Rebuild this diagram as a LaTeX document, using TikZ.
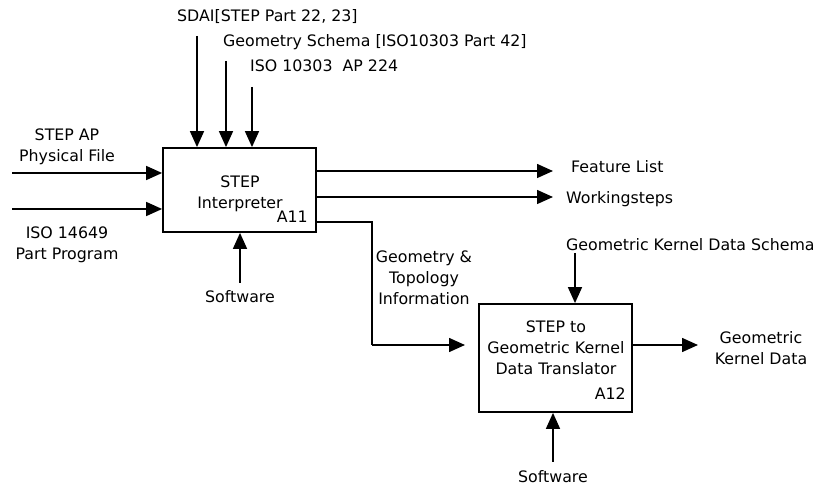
\documentclass[tikz,border=0pt]{standalone}
\usepackage{fontspec}
\setmainfont{DejaVu Sans}
\usetikzlibrary{arrows.meta}
\begin{document}
\begin{tikzpicture}[x=1pt,y=-1pt,
  lbl/.style={inner sep=0pt, font=\fontsize{15.8}{21}\selectfont, align=center},
  proc/.style={draw, line width=1.8pt, minimum width=153pt, minimum height=#1, inner sep=0pt},
  flow/.style={line width=1.5pt, -{Triangle[length=16pt,width=14pt]}},
  wire/.style={line width=1.5pt}]
\useasboundingbox (0,0) rectangle (815,486);

% activity boxes
\node[proc=84pt]  (a11) at (239.5,190) {};
\node[proc=108pt] (a12) at (555.5,358) {};

% box texts (multi-line nodes are placed by their last baseline)
\node[lbl, anchor=base] (a11txt) at (240,208.5) {STEP\\Interpreter};
\node[lbl, anchor=base east] (a11id) at (308,223) {A11};
\node[lbl, anchor=base] (a12txt) at (556,375) {STEP to\\Geometric Kernel\\Data Translator};
\node[lbl, anchor=base east] (a12id) at (626,400) {A12};

% controls of A11
\coordinate (c1) at (197,36);
\coordinate (c2) at (226,61);
\coordinate (c3) at (252,87);
\draw[flow] (c1) -- (c1 |- a11.north);
\draw[flow] (c2) -- (c2 |- a11.north);
\draw[flow] (c3) -- (c3 |- a11.north);
\node[lbl, anchor=base west] (sdai) at (177,21.5) {SDAI[STEP Part 22, 23]};
\node[lbl, anchor=base west] (geo) at (223,46.5) {Geometry Schema [ISO10303 Part 42]};
\node[lbl, anchor=base west] (ap) at (250,72) {ISO 10303\ \ AP 224};

% inputs of A11
\coordinate (i1) at (12,173);
\coordinate (i2) at (12,209);
\draw[flow] (i1) -- (i1 -| a11.west);
\draw[flow] (i2) -- (i2 -| a11.west);
\node[lbl, anchor=base] (phys) at (67,162) {STEP AP\\Physical File};
\node[lbl, anchor=base] (prog) at (67,260) {ISO 14649\\Part Program};

% mechanism of A11
\coordinate (m1) at (240,283);
\draw[flow] (m1) -- (m1 |- a11.south);
\node[lbl, anchor=base] (sw1) at (240,302.5) {Software};

% outputs of A11
\coordinate (o1) at (553,171);
\coordinate (o2) at (553,197);
\draw[flow] (o1 -| a11.east) -- (o1);
\draw[flow] (o2 -| a11.east) -- (o2);
\node[lbl, anchor=base west] (feat) at (571,172.5) {Feature List};
\node[lbl, anchor=base west] (ws) at (566,204) {Workingsteps};

% geometry link from A11 to A12
\coordinate (g0) at (316,222);
\coordinate (gb) at (372,345);
\coordinate (g1) at (465,345);
\draw[wire] (g0 -| a11.east) -| (gb);
\draw[flow] (gb) -- (g1);
\node[lbl, anchor=base] (gti) at (424,305) {Geometry \&\\Topology\\Information};

% control of A12
\coordinate (c4) at (575,253);
\draw[flow] (c4) -- (c4 |- a12.north);
\node[lbl, anchor=base west] (gkds) at (566,250.5) {Geometric Kernel Data Schema};

% mechanism of A12
\coordinate (m2) at (553,462);
\draw[flow] (m2) -- (m2 |- a12.south);
\node[lbl, anchor=base] (sw2) at (553,483) {Software};

% output of A12
\coordinate (o3) at (698,345);
\draw[flow] (o3 -| a12.east) -- (o3);
\node[lbl, anchor=base] (gkd) at (761,365) {Geometric\\Kernel Data};
\end{tikzpicture}
\end{document}
